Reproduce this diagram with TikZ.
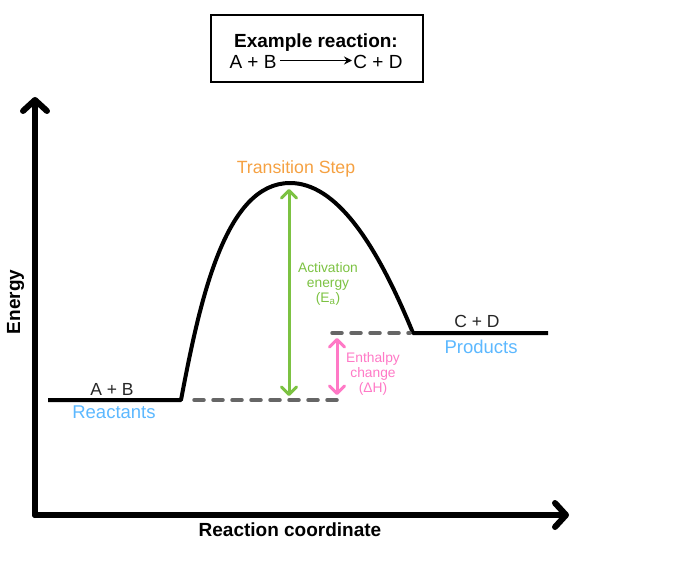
\documentclass[tikz,border=0pt]{standalone}
\usepackage{fontspec}
\setmainfont{Liberation Sans}
\usetikzlibrary{arrows.meta}
\definecolor{tsorange}{HTML}{F5A142}
\definecolor{eagreen}{HTML}{7CC242}
\definecolor{dhpink}{HTML}{FF79C6}
\definecolor{lblblue}{HTML}{5CB8FF}
\definecolor{dashgray}{HTML}{666666}
\begin{document}
\begin{tikzpicture}[x=1pt,y=-1pt,
  txt/.style={inner sep=0pt, anchor=base},
  boldlbl/.style={txt, font=\fontsize{19}{22}\selectfont\bfseries},
  eqlbl/.style={txt, font=\fontsize{19}{22}\selectfont},
  specieslbl/.style={txt, font=\fontsize{17.5}{20}\selectfont, text=black!85},
  statelbl/.style={txt, font=\fontsize{18.5}{21}\selectfont, text=lblblue},
  smalllbl/.style={txt, font=\fontsize{13.8}{15}\selectfont},
  axisline/.style={line width=6pt, line cap=round, line join=round},
  axistip/.style={-{Straight Barb[length=11pt,width=24pt,line cap=round,line join=round]}},
  curveline/.style={line width=4pt, line join=round},
  dashline/.style={line width=3.5pt, dashgray, dash pattern=on 10pt off 9pt, line cap=round},
  measure/.style={line width=3pt, {Straight Barb[length=7.5pt,width=15pt,line cap=round,line join=round]}-{Straight Barb[length=7.5pt,width=15pt,line cap=round,line join=round]}}
]
\useasboundingbox (0,0) rectangle (677,570);

% title box
\node[draw, line width=2pt, minimum width=212pt, minimum height=67pt, inner sep=0pt] (box) at (317,48.5) {};
\node[boldlbl] (title) at (316,47) {Example reaction:};
\node[eqlbl] (eqL) at (253,68) {A + B};
\node[eqlbl] (eqR) at (378,68) {C + D};
\coordinate (eqAs) at (280,60.5);
\coordinate (eqAe) at (352,60.5);
\draw[line width=1.4pt, -{Stealth[length=8pt,width=8pt]}] (eqAs) -- (eqAe);

% axes
\coordinate (origin) at (35,515);
\coordinate (ytop) at (35,97);
\coordinate (xend) at (569,515);
\draw[axisline, axistip] (origin) -- (ytop);
\draw[axisline, axistip] (origin) -- (xend);
\node[boldlbl, rotate=90] (ylab) at (20,302) {Energy};
\node[boldlbl] (xlab) at (290,536) {Reaction coordinate};

% energy profile
\coordinate (r0) at (48,400);
\coordinate (r1) at (181,400);
\coordinate (peak) at (290,183);
\coordinate (p0) at (413,333);
\coordinate (p1) at (548,333);
\draw[curveline] (r0) -- (r1) .. controls (200,300) and (225,183) .. (peak)
  .. controls (335,183) and (375,240) .. (p0) -- (p1);

% dashed reference levels
\coordinate (dl0) at (194,400);
\coordinate (dl1) at (340,400);
\coordinate (du0) at (332,333);
\coordinate (du1) at (410,333);
\draw[dashline] (dl0) -- (dl1);
\draw[dashline] (du0) -- (du1);

% activation energy
\coordinate (ea0) at (289,189);
\coordinate (ea1) at (289,396);
\draw[measure, eagreen] (ea0) -- (ea1);
\node[smalllbl, text=eagreen] (ea1l) at (328,272) {Activation};
\node[smalllbl, text=eagreen] (ea2l) at (328,287) {energy};
\node[smalllbl, text=eagreen] (ea3l) at (328,302) {(E\textsubscript{a})};

% enthalpy change
\coordinate (dh0) at (337,338);
\coordinate (dh1) at (337,395);
\draw[measure, dhpink] (dh0) -- (dh1);
\node[smalllbl, text=dhpink] (dh1l) at (373,362) {Enthalpy};
\node[smalllbl, text=dhpink] (dh2l) at (373,377) {change};
\node[smalllbl, text=dhpink] (dh3l) at (373,392) {(ΔH)};

% labels
\node[txt, font=\fontsize{17.7}{20}\selectfont, text=tsorange] (ts) at (296,173) {Transition Step};
\node[specieslbl] (ab) at (112,395) {A + B};
\node[statelbl] (react) at (114,418) {Reactants};
\node[specieslbl] (cd) at (477,327) {C + D};
\node[statelbl] (prod) at (481,353) {Products};
\end{tikzpicture}
\end{document}
